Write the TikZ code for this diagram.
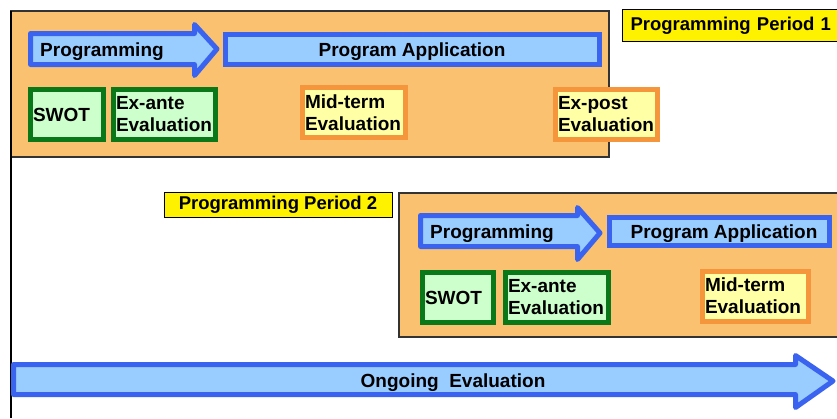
\documentclass[tikz,border=0pt]{standalone}
\usepackage{fontspec}
\setmainfont{Liberation Sans}
\usetikzlibrary{positioning}

\definecolor{panel}{RGB}{250,194,112}
\definecolor{arrowline}{RGB}{58,100,240}
\definecolor{arrowfill}{RGB}{153,204,255}
\definecolor{greenline}{RGB}{10,120,25}
\definecolor{greenfill}{RGB}{204,255,204}
\definecolor{orangeline}{RGB}{245,150,60}
\definecolor{orangefill}{RGB}{255,255,165}

\begin{document}
\begin{tikzpicture}[x=1pt, y=-1pt,
            every node/.style={font=\fontsize{19}{22}\selectfont\bfseries, text=black},
            period/.style={draw=black!80, line width=1.2pt, fill=panel},
            tag/.style={draw=black, line width=1pt, fill=yellow, inner xsep=8pt, inner ysep=0pt},
            bigarrow/.style={draw=arrowline, line width=5pt, fill=arrowfill, line join=round},
            bar/.style={draw=arrowline, line width=5pt, fill=arrowfill},
            stepbox/.style={draw, line width=5pt, align=left, inner xsep=2.5pt, inner ysep=0pt, minimum height=50pt},
            greenbox/.style={stepbox, draw=greenline, fill=greenfill},
            yellowbox/.style={stepbox, draw=orangeline, fill=orangefill}]

            \useasboundingbox (0,0) rectangle (837,418);
            \clip (0,0) rectangle (837,418);

            % Periods
            \draw [period] (11,11) rectangle (609,157);
            \draw [period] (399,193) rectangle (850,337);
            \draw [black, line width=1.2pt] (11,11) -- (11,418);

            \node (tag1) [tag, anchor=west, minimum height=32pt, text width=210pt, align=left, font=\fontsize{18.5}{22}\selectfont\bfseries] at (622,25.5) {Programming Period 1};
            \node (tag2) [tag, minimum width=228pt, minimum height=25pt, font=\fontsize{18.5}{22}\selectfont\bfseries] at (278,204.5) {Programming Period 2};

            % Period 1
            \draw [bigarrow] (30.5,33.5) -- (194.5,33.5) -- (194.5,24.5) -- (217,49) -- (194.5,75.5) -- (194.5,64.5) -- (30.5,64.5) -- cycle;
            \draw [bar] (225.5,34.5) rectangle (599.5,64.5);
            \node (prog1) [anchor=base west, inner sep=0pt] at (40,56) {Programming};
            \node (appl1) [anchor=base, inner sep=0pt] at (412,56) {Program Application};

            \node (swot1) [greenbox, text width=68pt] at (67,114.5) {SWOT};
            \node (exante1) [greenbox, text width=97pt, right=5pt of swot1] {Ex-ante\\Evaluation};
            \node (mid1) [yellowbox, text width=98pt] at (354,112.5) {Mid-term\\Evaluation};
            \node (expost1) [yellowbox, text width=97pt] at (606.5,114.5) {Ex-post\\Evaluation};

            % Period 2
            \draw [bigarrow] (420.5,215.5) -- (577.5,215.5) -- (577.5,207.5) -- (600,233) -- (577.5,259.5) -- (577.5,246.5) -- (420.5,246.5) -- cycle;
            \draw [bar] (609.5,217.5) rectangle (829.5,245.5);
            \node (prog2) [anchor=base west, inner sep=0pt] at (430,238) {Programming};
            \node (appl2) [anchor=base, inner sep=0pt] at (724,238) {Program Application};

            \node (swot2) [greenbox, text width=66pt] at (458,297.5) {SWOT};
            \node (exante2) [greenbox, text width=98pt, right=7pt of swot2] {Ex-ante\\Evaluation};
            \node (mid2) [yellowbox, text width=101pt] at (755.5,296) {Mid-term\\Evaluation};

            % Ongoing
            \draw [bigarrow] (13.5,364.5) -- (795.5,364.5) -- (795.5,355.5) -- (833,381) -- (795.5,407.5) -- (795.5,394.5) -- (13.5,394.5) -- cycle;
            \node (ongoing) [anchor=base, inner sep=0pt] at (453,387) {Ongoing~~Evaluation};
        \end{tikzpicture}
\end{document}
